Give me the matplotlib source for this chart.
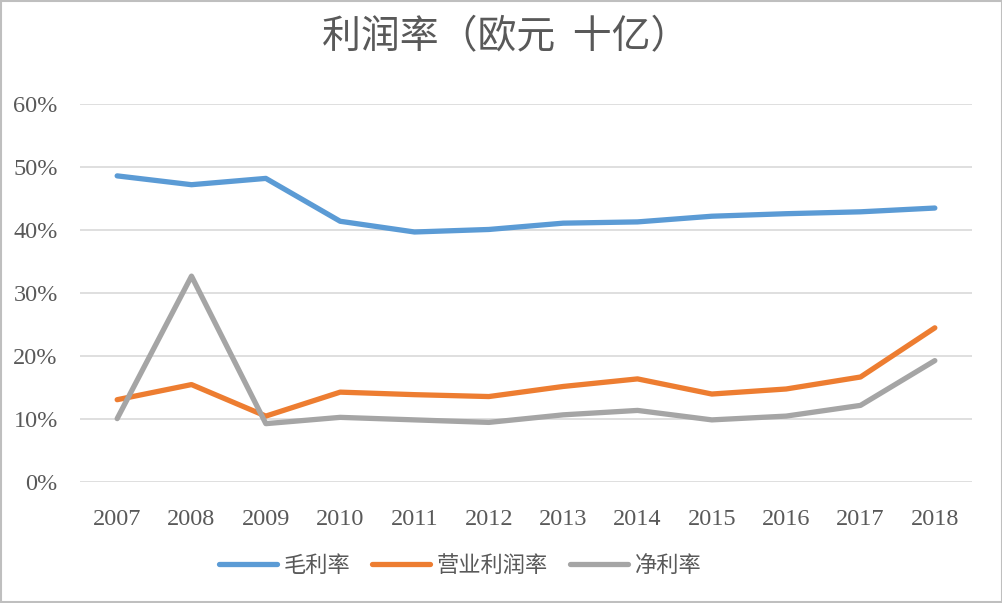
import matplotlib
matplotlib.use("Agg")
import matplotlib.pyplot as plt
from matplotlib.ticker import FuncFormatter, MultipleLocator
from matplotlib.patches import Rectangle

years = ["2007", "2008", "2009", "2010", "2011", "2012", "2013", "2014", "2015", "2016", "2017", "2018"]
gross_margin = [48.6, 47.2, 48.2, 41.4, 39.7, 40.1, 41.1, 41.3, 42.2, 42.6, 42.9, 43.5]
operating_margin = [13.1, 15.5, 10.5, 14.3, 13.9, 13.6, 15.2, 16.4, 14.0, 14.8, 16.7, 24.5]
net_margin = [10.1, 32.7, 9.3, 10.3, 9.9, 9.5, 10.7, 11.4, 9.9, 10.5, 12.2, 19.3]
series_names = ["毛利率", "营业利润率", "净利率"]
title_text = "利润率（欧元  十亿）"

cjk = ["Noto Sans CJK SC", "DejaVu Sans"]
serif = ["Liberation Serif", "DejaVu Serif"]

fig = plt.figure(figsize=(10.03, 6.03), dpi=100)
ax = fig.add_axes([80 / 1003, 1 - 482.3 / 603, 892 / 1003, (482.3 - 104) / 603])

colors = ["#5B9BD5", "#ED7D31", "#A5A5A5"]
x = list(range(len(years)))
for vals, name, c in zip([gross_margin, operating_margin, net_margin], series_names, colors):
    ax.plot(x, vals, color=c, lw=3.8, label=name, solid_capstyle="round", solid_joinstyle="round")

ax.set_xlim(-0.5, len(years) - 0.5)
ax.set_ylim(0, 60)
ax.yaxis.set_major_locator(MultipleLocator(10))
ax.yaxis.set_major_formatter(FuncFormatter(lambda v, p: f"{int(round(v))}%"))
ax.set_xticks(x)
ax.set_xticklabels(years)
ax.grid(axis="y", color="#D9D9D9", lw=1.2)
ax.set_axisbelow(True)
for s in ["top", "right", "left", "bottom"]:
    ax.spines[s].set_visible(False)
ax.tick_params(axis="both", length=0, labelsize=17.5, colors="#595959")
ax.tick_params(axis="y", pad=16)
ax.tick_params(axis="x", pad=19)
for lab in ax.get_xticklabels() + ax.get_yticklabels():
    lab.set_family(serif)

fig.text(506 / 1003, 1 - 37 / 603, title_text, ha="center", va="center", fontsize=28,
         color="#595959", family=cjk)

leg = fig.legend(loc="center", bbox_to_anchor=(460 / 1003, 1 - 565 / 603), ncol=3, frameon=False,
                 prop={"family": cjk, "size": 16}, handlelength=2.6, columnspacing=1.0,
                 handletextpad=0.3, labelcolor="#595959")

fig.patches.append(Rectangle((0.001, 0.001), 0.998, 0.998, transform=fig.transFigure,
                             fill=False, edgecolor="#BFBFBF", lw=1.5))

fig.savefig("out.png", dpi=100)
